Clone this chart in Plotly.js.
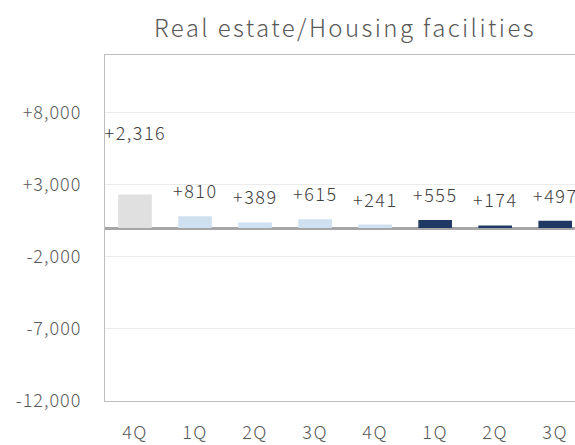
<!DOCTYPE html>
<html><head><meta charset="utf-8">
<script src="https://cdn.plot.ly/plotly-3.0.1.min.js"></script>
<style>
html,body{margin:0;padding:0;background:#fff;}
#chart{width:575px;height:445px;}
#chart text{letter-spacing:1.5px;}
#chart .ytick text{letter-spacing:1px;}
#chart .gtitle{letter-spacing:2.4px;}
</style>
</head><body><div id="chart"></div>
<script>
const categories = ["4Q","1Q","2Q","3Q","4Q","1Q","2Q","3Q"];
const values = [2316, 810, 389, 615, 241, 555, 174, 497];
const labels = ["+2,316","+810","+389","+615","+241","+555","+174","+497"];
const barColors = ["#e0e0e0","#cfe0f1","#cfe0f1","#cfe0f1","#cfe0f1","#1f3864","#1f3864","#1f3864"];
const yTickVals = [-12000, -7000, -2000, 3000, 8000];
const yTickText = ["-12,000","-7,000","-2,000","+3,000","+8,000"];

const idx = categories.map((c,i)=>i);
const font = "'Noto Sans CJK JP', 'Noto Sans', sans-serif";

const trace = {
  type: "bar",
  x: idx,
  y: values,
  width: 0.56,
  marker: {color: barColors, line: {width: 0}},
  hoverinfo: "none"
};

const annotations = values.map((v,i)=>({
  x: i, y: v, xref: "x", yref: "y",
  text: labels[i], showarrow: false,
  yshift: i===0 ? 63 : 26,
  font: {family: font, size: 18, color: "#404040", weight: 300},
  xanchor: "center", yanchor: "middle"
}));

const layout = {
  width: 575, height: 445,
  margin: {l: 105, r: 0, t: 55, b: 44},
  paper_bgcolor: "#fff", plot_bgcolor: "#fff",
  showlegend: false,
  title: {text: "Real estate/Housing facilities", x: 0.6, xanchor: "center", y: 0.935, yanchor: "middle",
          font: {family: font, size: 24, color: "#595959", weight: 300}},
  xaxis: {
    range: [-0.5, 7.33],
    tickvals: idx, ticktext: categories,
    showgrid: false, zeroline: false,
    showline: true, linecolor: "#bfbfbf", linewidth: 1, mirror: true,
    ticks: "", ticklabelstandoff: 15,
    tickfont: {family: font, size: 18, color: "#595959", weight: 300},
    fixedrange: true
  },
  yaxis: {
    range: [-12000, 12000],
    tickvals: yTickVals, ticktext: yTickText,
    showgrid: true, gridcolor: "#ebebeb", gridwidth: 1,
    zeroline: true, zerolinecolor: "#a6a6a6", zerolinewidth: 3,
    showline: true, linecolor: "#bfbfbf", linewidth: 1,
    ticks: "", ticklabelstandoff: 19,
    tickfont: {family: font, size: 18, color: "#595959", weight: 300},
    fixedrange: true
  },
  annotations: annotations
};

Plotly.newPlot("chart", [trace], layout, {displayModeBar: false, staticPlot: true});
</script>
</body></html>
